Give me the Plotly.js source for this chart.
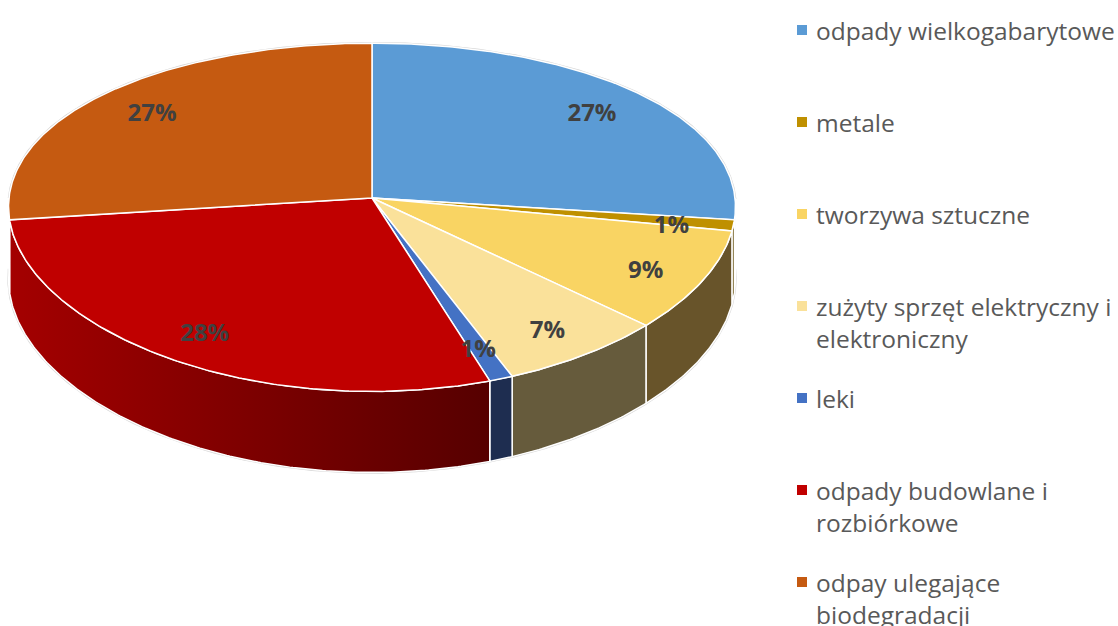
<!DOCTYPE html>
<html>
<head>
<meta charset="utf-8">
<script src="https://cdn.plot.ly/plotly-3.0.1.min.js"></script>
<style>html,body{margin:0;padding:0;background:#fff;}#chart{width:1118px;height:626px;}</style>
</head>
<body>
<div id="chart"></div>
<script>
// ---- data ----
const categories = [
  "odpady wielkogabarytowe",
  "metale",
  "tworzywa sztuczne",
  "zużyty sprzęt elektryczny i elektroniczny",
  "leki",
  "odpady budowlane i rozbiórkowe",
  "odpay ulegające biodegradacji"
];
const values = [27, 1, 9, 7, 1, 28, 27];

// ---- styles ----
const topColors  = ["#5B9BD5", "#BF9000", "#F9D463", "#FAE19A", "#4472C4", "#C00000", "#C55A11"];
const sideColors = ["#2E5C8A", "#5E4700", "#68542A", "#665B3C", "#1E2D50", "#A40000", "#6A300A"];
const sideGradientEnd = [null, null, null, null, null, "#560000", null];

// ---- geometry of the tilted pie ----
const CX = 372, CY = 198, R = 363, B = 172, D = 72, PX = 0.05, PY = 0.111;
function P(thDeg, f, down) {
  const t = thDeg * Math.PI / 180;
  const c = Math.cos(t) * f, s = Math.sin(t) * f;
  const sx = 1 / (1 + PX * c), sy = 1 / (1 + PY * c);
  return [CX + R * s * sx, CY - B * c * sy + down * D * sy];
}
function arc(a, b, down) {
  const pts = [];
  const n = Math.max(2, Math.ceil(Math.abs(b - a) / 0.5));
  for (let i = 0; i <= n; i++) pts.push(P(a + (b - a) * i / n, 1, down));
  return pts;
}

const total = values.reduce((p, q) => p + q, 0);
const starts = [], ends = [];
let acc = 0;
values.forEach(v => { starts.push(acc / total * 360); acc += v; ends.push(acc / total * 360); });

const traces = [];

// silhouette (faint grey outline)
{
  const back = arc(270, 450, 0);
  const bottom = arc(90, 270, 1);
  const pts = back.concat(bottom.reverse());
  pts.push(pts[0]);
  traces.push({type: "scatter", mode: "lines", x: pts.map(p => p[0]), y: pts.map(p => p[1]),
    fill: "toself", fillcolor: "#ffffff", line: {color: "#D6D6D6", width: 2.5},
    hoverinfo: "skip", showlegend: false});
}

// side walls (front half only)
values.forEach((v, i) => {
  const a = Math.max(starts[i], 90), b = Math.min(ends[i], 270);
  if (b <= a) return;
  const top = arc(a, b, 0);
  const bot = arc(a, b, 1).reverse();
  const pts = top.concat(bot);
  pts.push(pts[0]);
  const xs = pts.map(p => p[0]), ys = pts.map(p => p[1]);
  const tr = {type: "scatter", mode: "lines", x: xs, y: ys, fill: "toself",
    fillcolor: sideColors[i], line: {color: "#ffffff", width: 1.5},
    hoverinfo: "skip", showlegend: false};
  if (sideGradientEnd[i]) {
    tr.fillgradient = {type: "horizontal",
      colorscale: [[0, sideColors[i]], [1, sideGradientEnd[i]]],
      start: Math.min(...xs), stop: Math.max(...xs)};
  }
  traces.push(tr);
});

// top faces
values.forEach((v, i) => {
  const pts = [[CX, CY]].concat(arc(starts[i], ends[i], 0));
  pts.push([CX, CY]);
  traces.push({type: "scatter", mode: "lines", x: pts.map(p => p[0]), y: pts.map(p => p[1]),
    fill: "toself", fillcolor: topColors[i], line: {color: "#ffffff", width: 1.5},
    hoverinfo: "skip", showlegend: false, name: categories[i]});
});

// percentage labels
const LABEL_F = 0.83, LABEL_DY = 6;
const lab = values.map((v, i) => P((starts[i] + ends[i]) / 2, LABEL_F, 0));
traces.push({type: "scatter", mode: "text",
  x: lab.map(p => p[0]), y: lab.map(p => p[1] + LABEL_DY),
  text: values.map(v => Math.round(v / total * 100) + "%"),
  textposition: "middle center",
  textfont: {family: "Open Sans", size: 24, color: "#404040", weight: 700},
  hoverinfo: "skip", showlegend: false});

// manual legend (Excel-like evenly spaced entries)
function wrap(s, n) {
  const words = s.split(" "), lines = [];
  let cur = "";
  words.forEach(w => {
    if (cur && (cur + " " + w).length > n) { lines.push(cur); cur = w; }
    else cur = cur ? cur + " " + w : w;
  });
  if (cur) lines.push(cur);
  return lines;
}
const LEG_X = 802, LEG_Y0 = 30, LEG_STEP = 92, LINE_H = 32;
const legY = categories.map((c, i) => LEG_Y0 + LEG_STEP * i);
traces.push({type: "scatter", mode: "markers", x: categories.map(() => LEG_X), y: legY,
  marker: {symbol: "square", size: 10, color: topColors, line: {width: 0}},
  hoverinfo: "skip", showlegend: false});
const annotations = [];
categories.forEach((c, i) => {
  wrap(c, 27).forEach((line, k) => {
    annotations.push({x: LEG_X + 12, y: legY[i] + k * LINE_H, xref: "x", yref: "y",
      text: line, showarrow: false, xanchor: "left", yanchor: "middle",
      font: {family: "Open Sans", size: 24.5, color: "#595959"}});
  });
});

const layout = {
  width: 1118, height: 626,
  margin: {l: 0, r: 0, t: 0, b: 0},
  paper_bgcolor: "#ffffff", plot_bgcolor: "#ffffff",
  xaxis: {range: [0, 1118], visible: false, fixedrange: true},
  yaxis: {range: [626, 0], visible: false, fixedrange: true},
  showlegend: false,
  annotations: annotations
};
Plotly.newPlot("chart", traces, layout, {displayModeBar: false, staticPlot: true});
</script>
</body>
</html>
